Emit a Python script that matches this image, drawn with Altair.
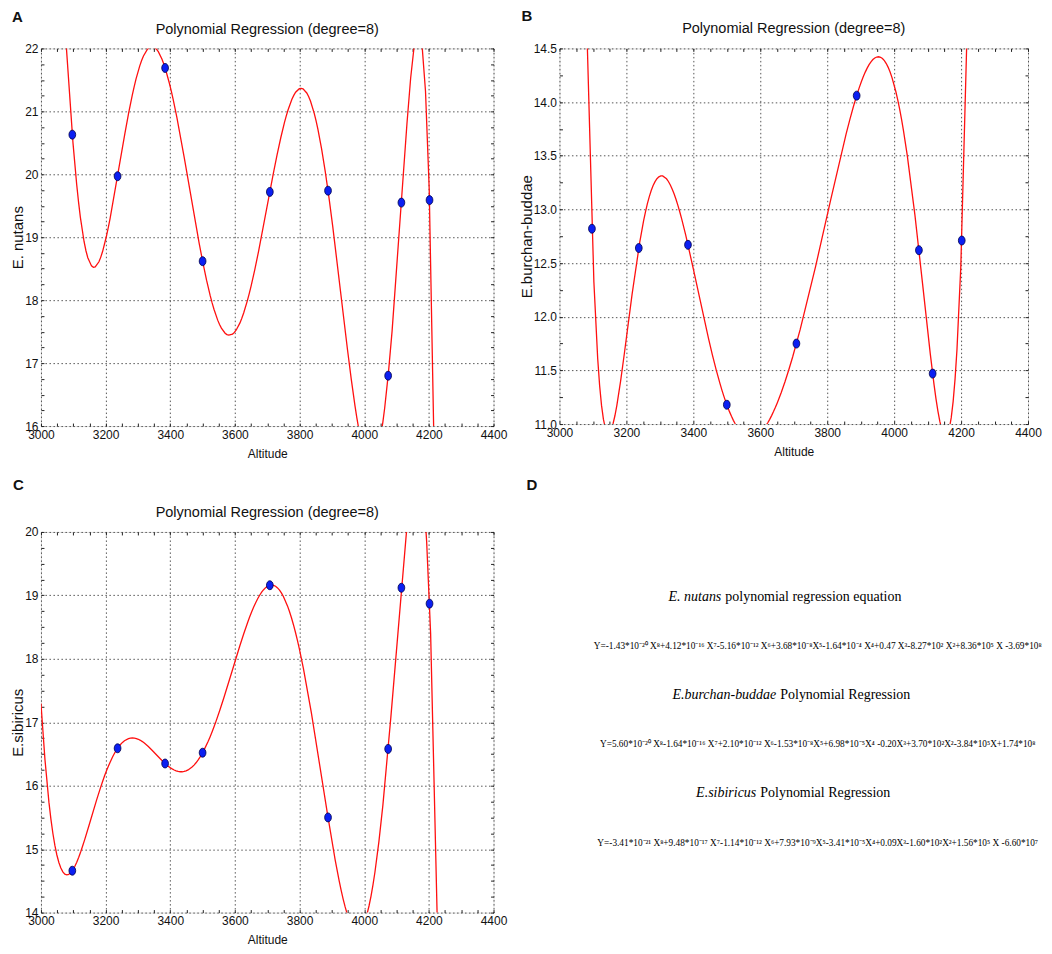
import altair as alt
import pandas as pd
import numpy as np

# ---------------- data ----------------
altitude = [3097, 3237, 3384, 3500, 3708, 3888, 4074, 4115, 4202]
e_nutans = [20.63, 19.97, 21.69, 18.62, 19.72, 19.74, 16.80, 19.55, 19.59]
e_burchan = [12.82, 12.64, 12.67, 11.18, 11.75, 14.06, 12.62, 11.47, 12.71]
e_sibiricus = [14.66, 16.59, 16.35, 16.52, 19.16, 15.50, 16.58, 19.12, 18.87]

x_ticks = [3000, 3200, 3400, 3600, 3800, 4000, 4200, 4400]
panel_title = "Polynomial Regression (degree=8)"
y_titles = ["E. nutans", "E.burchan-buddae", "E.sibiricus"]
letters = ["A", "B", "C", "D"]

head_italic = ["E. nutans", "E.burchan-buddae", "E.sibiricus"]
head_rest = ["polynomial regression equation", "Polynomial Regression", "Polynomial Regression"]
equations = [
    "Y=-1.43*10⁻²⁰ X⁸+4.12*10⁻¹⁶ X⁷-5.16*10⁻¹² X⁶+3.68*10⁻⁸X⁵-1.64*10⁻⁴ X⁴+0.47 X³-8.27*10² X²+8.36*10⁵ X -3.69*10⁸",
    "Y=5.60*10⁻²⁰ X⁸-1.64*10⁻¹⁶ X⁷+2.10*10⁻¹² X⁶-1.53*10⁻⁸X⁵+6.98*10⁻⁵X⁴ -0.20X³+3.70*10²X²-3.84*10⁵X+1.74*10⁸",
    "Y=-3.41*10⁻²¹ X⁸+9.48*10⁻¹⁷ X⁷-1.14*10⁻¹² X⁶+7.93*10⁻⁹X⁵-3.41*10⁻⁵X⁴+0.09X³-1.60*10²X²+1.56*10⁵ X -6.60*10⁷",
]

# ---------------- styles ----------------
SANS = "Liberation Sans, Arial, sans-serif"
SERIF = "Liberation Serif, Times New Roman, serif"
ELLIPSE = "M-0.75,0A0.75,1,0,1,1,0.75,0A0.75,1,0,1,1,-0.75,0Z"
GRID_DASH = [1.5, 2.5]


def frange(a, b, step):
    n = int(round((b - a) / step))
    return [float(round(a + i * step, 4)) for i in range(n + 1)]


def tick_axis(orient, vals, offset):
    return alt.Axis(orient=orient, offset=offset, values=vals, labels=False,
                    grid=False, domain=False, ticks=True, tickSize=3,
                    tickColor="#222", tickWidth=1, title=None)


def label(text, font, size, weight, align, x, y):
    return alt.Chart(pd.DataFrame({"t": [text]})).mark_text(
        font=font, fontSize=size, fontWeight=weight, align=align,
        baseline="alphabetic", color="#111"
    ).encode(text="t:N", x=alt.value(x), y=alt.value(y))


def panel(values, ytitle, ydom, ystep, yfmt, letter, w, h, ext,
          ytitle_x, letter_x, letter_y, title_y):
    df = pd.DataFrame({"alt": altitude, "val": values})
    xs = alt.Scale(domain=[3000, 4400], nice=False, zero=False)
    ys = alt.Scale(domain=ydom, nice=False, zero=False)
    ymajor = frange(ydom[0], ydom[1], ystep)
    yminor = frange(ydom[0], ydom[1], 0.25)
    xminor = frange(3000, 4400, 50)

    main_x = alt.Axis(values=x_ticks, format="d", grid=True, gridDash=GRID_DASH,
                      gridColor="#444", gridWidth=0.9, ticks=False, domain=False,
                      labelFont=SANS, labelFontSize=12, labelColor="#111",
                      labelPadding=3, labelFlush=False, labelOverlap=False,
                      title="Altitude", titleFont=SANS, titleFontSize=12,
                      titleFontWeight="normal", titleColor="#111",
                      titleX=w / 2, titleY=31, titleBaseline="alphabetic",
                      titleAlign="center")
    main_y = alt.Axis(values=ymajor, format=yfmt, grid=True, gridDash=GRID_DASH,
                      gridColor="#444", gridWidth=0.9, ticks=False, domain=False,
                      labelFont=SANS, labelFontSize=12, labelColor="#111",
                      labelPadding=3, labelFlush=False, labelOverlap=False,
                      title=ytitle, titleFont=SANS, titleFontSize=15,
                      titleFontWeight="normal", titleColor="#111",
                      titleAngle=270, titleX=ytitle_x, titleY=h / 2,
                      titleAlign="center", titleBaseline="middle")

    line = alt.Chart(df).transform_regression(
        "alt", "val", method="poly", order=8, extent=ext
    ).mark_line(color="#ff1010", strokeWidth=1.3, clip=True).encode(
        x=alt.X("alt:Q", scale=xs, axis=main_x),
        y=alt.Y("val:Q", scale=ys, axis=main_y),
    )
    pts = alt.Chart(df).mark_point(
        shape=ELLIPSE, size=81, filled=True, fill="#0b1ff2", stroke="#00004a",
        strokeWidth=0.8, opacity=1
    ).encode(
        x=alt.X("alt:Q", scale=xs, axis=tick_axis("top", xminor, -h)),
        y=alt.Y("val:Q", scale=ys, axis=tick_axis("right", yminor, -w)),
    )
    ghost = alt.Chart(df).mark_point(opacity=0).encode(
        x=alt.X("alt:Q", scale=xs, axis=tick_axis("bottom", xminor, -h)),
        y=alt.Y("val:Q", scale=ys, axis=tick_axis("left", yminor, -w)),
    )
    lab = label(letter, SANS, 15, "bold", "left", letter_x, letter_y)
    ttl = label(panel_title, SANS, 14.5, "normal", "center", w / 2, title_y)

    return alt.layer(line, pts, ghost, lab, ttl).resolve_axis(
        x="independent", y="independent"
    ).properties(width=w, height=h)


pa = panel(e_nutans, y_titles[0], [16, 22], 1, "d", letters[0], 453, 378,
           [3076, 4224], -23.5, -29, -26, -14)
pb = panel(e_burchan, y_titles[1], [11, 14.5], 0.5, ".1f", letters[1], 469, 376,
           [3080, 4222], -32.5, -38, -27, -15)
pc = panel(e_sibiricus, y_titles[2], [14, 20], 1, "d", letters[2], 453, 381,
           [3000, 4230], -23.5, -28, -42, -15)

# ---------------- panel D: equations ----------------
dfh = pd.DataFrame({"row": [0, 2, 4], "it": head_italic, "rest": head_rest})
dfe = pd.DataFrame({"row": [1, 3, 5], "eq": equations})
yrow = alt.Scale(domain=[0, 5], range=[65, 311])
xhead = alt.Scale(domain=[0, 2, 4], range=[162, 217, 197])

t_it = alt.Chart(dfh).mark_text(
    font=SERIF, fontSize=14, fontStyle="italic", align="right",
    baseline="middle", color="#000"
).encode(x=alt.X("row:Q", scale=xhead, axis=None),
         y=alt.Y("row:Q", scale=yrow, axis=None), text="it:N")
t_rest = alt.Chart(dfh).mark_text(
    font=SERIF, fontSize=14, align="left", baseline="middle", dx=4, color="#000"
).encode(x=alt.X("row:Q", scale=xhead, axis=None),
         y=alt.Y("row:Q", scale=yrow, axis=None), text="rest:N")
t_eq = alt.Chart(dfe).mark_text(
    font=SERIF, fontSize=9.3, align="center", baseline="middle", color="#000"
).encode(x=alt.value(258.5), y=alt.Y("row:Q", scale=yrow, axis=None), text="eq:N")
t_d = label(letters[3], SANS, 15, "bold", "left", -33, -42)

pdd = alt.layer(t_it, t_rest, t_eq, t_d).properties(
    width=469, height=381,
    view=alt.ViewBackground(stroke="transparent", strokeWidth=0),
)

chart = alt.concat(
    pa, pb, pc, pdd, columns=2, spacing={"row": 106, "column": 66}, bounds="flush"
).properties(
    padding={"left": 2, "top": 0, "right": 2, "bottom": 2}
).configure_view(stroke="#222", strokeWidth=1.5).configure(background="white")

chart.save("out.html", embed_options={"renderer": "svg", "actions": False})
